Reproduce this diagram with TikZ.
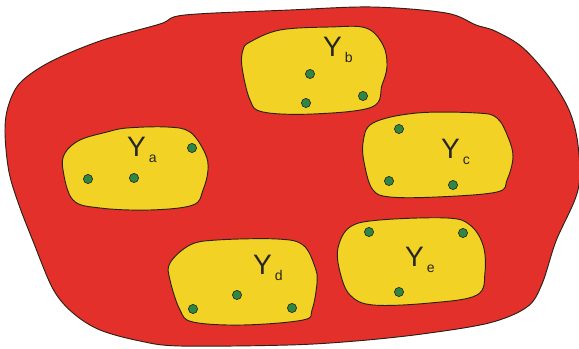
\documentclass[tikz,border=0pt]{standalone}
\usepackage{fontspec}
\setmainfont{Liberation Sans}
\usetikzlibrary{positioning}
\definecolor{rgRed}{HTML}{E3302B}
\definecolor{rgYellow}{HTML}{F2D325}
\definecolor{rgGreen}{HTML}{2E8743}
\definecolor{rgEdge}{HTML}{2B2118}
\newcommand{\ylab}[1]{{\fontsize{24}{24}\selectfont Y}\hspace{2.5pt}\raisebox{-5pt}{\fontsize{12}{12}\selectfont #1}}

\begin{document}
\begin{tikzpicture}[
  x=0.03cm, y=-0.03cm,
  region/.style={draw=rgEdge, fill=rgRed, line width=0.8pt},
  island/.style={draw=rgEdge, fill=rgYellow, line width=0.8pt},
  pt/.style={draw=rgEdge, fill=rgGreen, line width=0.5pt},
  lab/.style={anchor=base west, inner sep=0pt, text=black!85}
]
 \useasboundingbox (0,0) rectangle (579,349);

 % Outer region
 \draw[region] plot[smooth cycle, tension=0.55] coordinates {
  (185,15) (290,10) (372,7) (446,13) (476,25) (495,31) (522,47)
  (549,77) (569,110) (578,145) (578,190) (556,241) (542,284)
  (527,307) (489,323) (422,334) (356,341) (289,345) (180,346)
  (140,341) (100,330) (73,313) (53,289) (33,241) (19,205)
  (9,172) (5,133) (8,107) (20,83) (50,62) (100,41) (160,24)};

 % Islands
 \draw[island] plot[smooth cycle, tension=0.6] coordinates {
  (80,140) (107,132) (127,128) (167,127) (190,132) (205,153)
  (208,170) (203,190) (193,205) (150,210) (100,208) (73,200)
  (63,170) (65,153)};
 \draw[island] plot[smooth cycle, tension=0.6] coordinates {
  (250,42) (280,30) (330,27) (366,28) (383,45) (387,66)
  (382,85) (372,107) (313,114) (263,112) (250,100) (242,67)
  (243,50)};
 \draw[island] plot[smooth cycle, tension=0.6] coordinates {
  (373,123) (417,113) (477,113) (497,118) (508,137) (513,157)
  (507,180) (497,192) (437,197) (390,197) (373,190) (365,167)
  (363,143)};
 \draw[island] plot[smooth cycle, tension=0.6] coordinates {
  (190,245) (217,240) (277,239) (303,245) (315,267) (317,283)
  (312,310) (303,320) (243,325) (193,322) (180,310) (170,280)
  (170,263)};
 \draw[island] plot[smooth cycle, tension=0.6] coordinates {
  (350,227) (380,220) (447,218) (470,225) (483,245) (485,272)
  (477,295) (430,303) (373,305) (350,295) (340,272) (338,248)};

 % Points
 \foreach \p in {(88,179),(134,178),(192,148),
                 (310,74),(306,103),(363,96),
                 (399,129),(389,181),(453,185),
                 (193,309),(237,295),(292,308),
                 (369,232),(463,233),(399,292)}
  \draw[pt] \p circle (4.6);

 % Labels
 \node[lab] (ya) at (127,157) {\ylab{a}};
 \node[lab] (yb) at (323,57) {\ylab{b}};
 \node[lab] (yc) at (441,159) {\ylab{c}};
 \node[lab] (yd) at (253,275) {\ylab{d}};
 \node[lab] (ye) at (405,267) {\ylab{e}};
\end{tikzpicture}
\end{document}
